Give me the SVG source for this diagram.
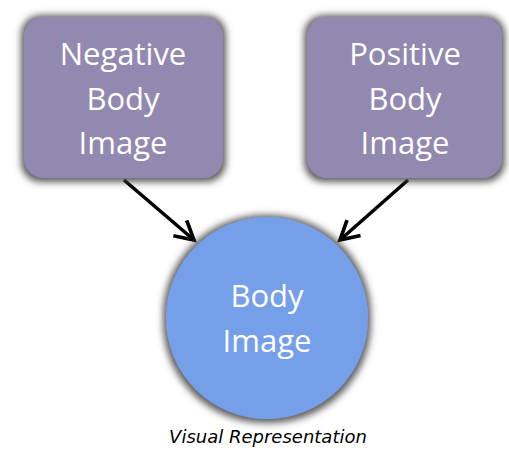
<svg xmlns="http://www.w3.org/2000/svg" width="509" height="450" viewBox="0 0 509 450">
<style>
.box{fill:#9189b0;filter:url(#sh)}
.circ{fill:#769fea;filter:url(#sh)}
.lbl{font-family:"Open Sans","DejaVu Sans",sans-serif;font-size:31px;fill:#ffffff;text-anchor:middle}
.cap{font-family:"DejaVu Sans","Open Sans",sans-serif;font-size:18px;font-style:italic;fill:#000;text-anchor:middle}
.conn{stroke:#000;stroke-width:3.5;fill:none;marker-end:url(#ah)}
</style>
<defs>
<filter id="sh" x="-20%" y="-20%" width="140%" height="140%">
<feMorphology in="SourceAlpha" operator="dilate" radius="3" result="d"/>
<feGaussianBlur in="d" stdDeviation="3.5"/>
<feOffset dx="0" dy="1" result="b"/>
<feFlood flood-color="#404040" flood-opacity="0.85"/>
<feComposite in2="b" operator="in" result="s"/>
<feMerge><feMergeNode in="s"/><feMergeNode in="SourceGraphic"/></feMerge>
</filter>
<marker id="ah" viewBox="0 0 12 12" refX="10" refY="6" markerWidth="7" markerHeight="7" orient="auto" markerUnits="strokeWidth">
<path d="M1,1 L10,6 L1,11" fill="none" stroke="#000" stroke-width="1.8"/>
</marker>
</defs>
<g id="connectors">
<line class="conn" x1="124" y1="180" x2="194" y2="240"/>
<line class="conn" x1="408" y1="180" x2="340" y2="240"/>
</g>
<g id="negative">
<rect class="box" x="24" y="17" width="199" height="161" rx="20"/>
<text class="lbl" x="123" y="65">Negative</text>
<text class="lbl" x="123" y="110">Body</text>
<text class="lbl" x="123" y="154">Image</text>
</g>
<g id="positive">
<rect class="box" x="307" y="17" width="195" height="161" rx="20"/>
<text class="lbl" x="405" y="65">Positive</text>
<text class="lbl" x="405" y="110">Body</text>
<text class="lbl" x="405" y="154">Image</text>
</g>
<g id="body">
<circle class="circ" cx="267" cy="318" r="101"/>
<text class="lbl" x="267" y="307">Body</text>
<text class="lbl" x="267" y="352">Image</text>
</g>
<text class="cap" x="268" y="443">Visual Representation</text>
</svg>
